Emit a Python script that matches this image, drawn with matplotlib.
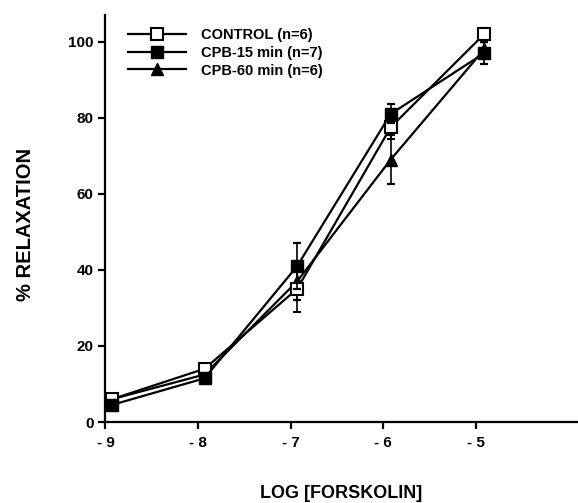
import matplotlib
matplotlib.use("Agg")
import matplotlib.pyplot as plt
from matplotlib.ticker import FuncFormatter
from matplotlib.lines import Line2D

plt.rcParams['font.family'] = ['Liberation Sans', 'DejaVu Sans']
plt.rcParams['font.weight'] = 'bold'

log_conc = [-8.93, -7.93, -6.93, -5.92, -4.91]
control = [6, 14, 35, 77.5, 102]
control_err = [0.8, 1.0, 6.0, 3.0, 1.5]
cpb15 = [4.5, 11.5, 41, 81, 97]
cpb15_err = [1.0, 1.0, 6.0, 2.5, 2.8]
cpb60 = [6, 12.5, 37, 69, 98]
cpb60_err = [0.8, 1.0, 5.0, 6.5, 2.0]
labels = ['CONTROL (n=6)', 'CPB-15 min (n=7)', 'CPB-60 min (n=6)']
xticks = [-9, -8, -7, -6, -5]
yticks = [0, 20, 40, 60, 80, 100]

fig = plt.figure(figsize=(5.78, 5.03), dpi=100)
ax = fig.add_axes([0.1825, 0.161, 0.817, 0.809])

kw = dict(color='black', lw=1.6, capsize=3, elinewidth=1.2, capthick=1.6, markersize=9)
ax.errorbar(log_conc, control, yerr=control_err, marker='s', mfc='white', mec='black',
            mew=1.5, zorder=3, **kw)
ax.errorbar(log_conc, cpb15, yerr=cpb15_err, marker='s', mfc='black', mec='black',
            zorder=4, **kw)
ax.errorbar(log_conc, cpb60, yerr=cpb60_err, marker='^', mfc='black', mec='black',
            zorder=2, **kw)

ax.set_xlim(-9, -3.9)
ax.set_ylim(0, 107)
ax.set_xticks(xticks)
ax.set_yticks(yticks)
ax.xaxis.set_major_formatter(FuncFormatter(lambda v, p: '- %d' % abs(round(v))))
for s in ['top', 'right']:
    ax.spines[s].set_visible(False)
for s in ['left', 'bottom']:
    ax.spines[s].set_linewidth(1.6)
ax.tick_params(axis='both', direction='out', width=1.6, length=5, labelsize=11)
ax.tick_params(axis='x', pad=5)

ax.set_xlabel('LOG [FORSKOLIN]', fontsize=13, fontweight='bold', labelpad=25)
ax.set_ylabel('% RELAXATION', fontsize=14.5, fontweight='bold')
ax.yaxis.set_label_coords(-0.15, 0.485)

handles = [
    Line2D([], [], color='black', lw=1.6, marker='s', mfc='white', mec='black', mew=1.5, markersize=9),
    Line2D([], [], color='black', lw=1.6, marker='s', mfc='black', mec='black', markersize=9),
    Line2D([], [], color='black', lw=1.6, marker='^', mfc='black', mec='black', markersize=9),
]
leg = ax.legend(handles, labels, loc='upper left', bbox_to_anchor=(0.02, 1.0), frameon=False,
                fontsize=10.5, handlelength=4.0, handletextpad=1.0, labelspacing=0.25)

fig.savefig('out.png', dpi=100)
